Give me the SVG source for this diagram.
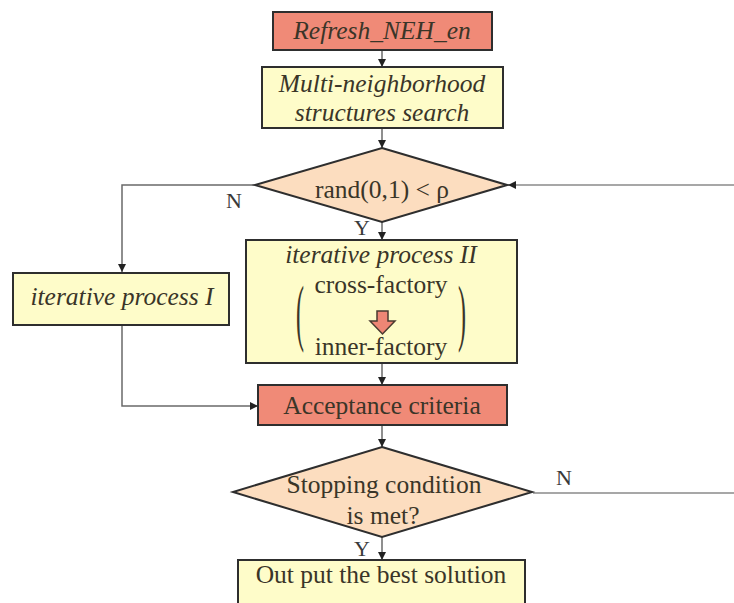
<svg xmlns="http://www.w3.org/2000/svg" width="734" height="603" viewBox="0 0 734 603" font-family="'Liberation Serif', 'Times New Roman', serif">
<style>
.box{stroke:#2e2e2e;stroke-width:2}
.red{fill:#F08A77}
.yel{fill:#FEFCC9}
.dia{fill:#FCDDBF}
text{font-family:'Liberation Serif','Times New Roman',serif}
.t{font-size:25.5px;fill:#3a3528;text-anchor:middle}
.i{font-style:italic}
.lbl{font-size:22px;fill:#3a3a3a;text-anchor:middle}
.c{fill:none;stroke:#6a6a6a;stroke-width:1.5}
.cl{fill:none;stroke:#8a8a8a;stroke-width:1.5}
</style>
<defs>
<marker id="ah" viewBox="0 0 10 10" refX="10" refY="5" markerWidth="8" markerHeight="8" markerUnits="userSpaceOnUse" orient="auto">
<path d="M0,0 L10,5 L0,10 z" fill="#222"/>
</marker>
</defs>
<rect width="734" height="603" fill="#ffffff"/>

<g id="connectors">
<line class="c" x1="382" y1="50" x2="382" y2="67" marker-end="url(#ah)"/>
<line class="c" x1="382" y1="128" x2="382" y2="148" marker-end="url(#ah)"/>
<polyline class="c" points="255,185 122,185 122,272" marker-end="url(#ah)"/>
<line class="c" x1="382" y1="222" x2="382" y2="240" marker-end="url(#ah)"/>
<line class="cl" x1="734" y1="185" x2="508" y2="185" marker-end="url(#ah)"/>
<line class="c" x1="382" y1="363" x2="382" y2="385" marker-end="url(#ah)"/>
<polyline class="c" points="122,325 122,406 258,406" marker-end="url(#ah)"/>
<line class="c" x1="382" y1="425" x2="382" y2="447" marker-end="url(#ah)"/>
<line class="cl" x1="533" y1="493" x2="734" y2="493"/>
<line class="c" x1="382" y1="537" x2="382" y2="560" marker-end="url(#ah)"/>
<text class="lbl" x="234" y="208">N</text>
<text class="lbl" x="362" y="235">Y</text>
<text class="lbl" x="564" y="485">N</text>
<text class="lbl" x="362" y="556">Y</text>
</g>

<g id="refresh">
<rect class="box red" x="273" y="12" width="219" height="38"/>
<text class="t i" x="382" y="39">Refresh_NEH_en</text>
</g>

<g id="multi">
<rect class="box yel" x="262" y="67" width="241" height="61"/>
<text class="t i" x="382" y="92">Multi-neighborhood</text>
<text class="t i" x="382" y="121">structures search</text>
</g>

<g id="rand">
<polygon class="box dia" points="382,148 507,185 382,222 255,185"/>
<text class="t" x="382" y="198">rand(0,1) &lt; ρ</text>
</g>

<g id="iter1">
<rect class="box yel" x="13" y="273" width="216" height="52"/>
<text class="t i" x="122" y="305">iterative process I</text>
</g>

<g id="iter2">
<rect class="box yel" x="246" y="240" width="271" height="123"/>
<text class="t i" x="381" y="263">iterative process II</text>
<text class="t" x="381" y="293">cross-factory</text>
<text class="t" x="381" y="355">inner-factory</text>
<text class="t" style="font-size:24px" transform="translate(300,337) scale(1,3.1)">(</text>
<text class="t" style="font-size:24px" transform="translate(462,337) scale(1,3.1)">)</text>
<path d="M377,311 L388,311 L388,321 L395,321 L382.5,334 L370,321 L377,321 z" fill="#EE8675" stroke="#4a3a30" stroke-width="1.5"/>
</g>

<g id="accept">
<rect class="box red" x="258" y="385" width="249" height="40"/>
<text class="t" x="382" y="414">Acceptance criteria</text>
</g>

<g id="stop">
<polygon class="box dia" points="382,447 532,492 382,537 233,492"/>
<text class="t" x="384" y="493">Stopping condition</text>
<text class="t" x="383" y="524">is met?</text>
</g>

<g id="output">
<rect class="box yel" x="238" y="560" width="287" height="50"/>
<text class="t" x="381" y="583">Out put the best solution</text>
</g>
</svg>
